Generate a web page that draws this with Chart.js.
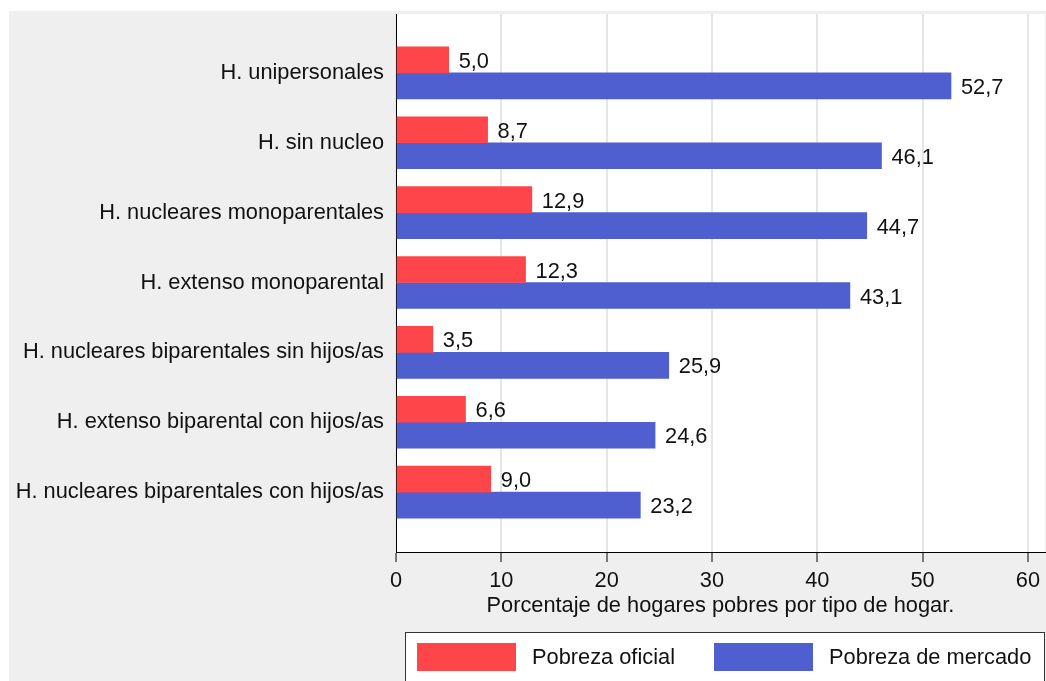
<!DOCTYPE html>
<html>
<head>
<meta charset="utf-8">
<script src="https://cdn.jsdelivr.net/npm/chart.js@4.4.1/dist/chart.umd.min.js"></script>
<style>
  html, body { margin: 0; padding: 0; background: #fff; }
  #wrap { width: 1046px; height: 681px; }
</style>
</head>
<body>
<div id="wrap"><canvas id="grafico"></canvas></div>
<script>
// tipos de hogar, de arriba hacia abajo
const categorias = [
  'H. unipersonales',
  'H. sin nucleo',
  'H. nucleares monoparentales',
  'H. extenso monoparental',
  'H. nucleares biparentales sin hijos/as',
  'H. extenso biparental con hijos/as',
  'H. nucleares biparentales con hijos/as'
];
const pobrezaOficial = [5.0, 8.7, 12.9, 12.3, 3.5, 6.6, 9.0];
const pobrezaMercado = [52.7, 46.1, 44.7, 43.1, 25.9, 24.6, 23.2];
const ticksX = [0, 10, 20, 30, 40, 50, 60];
const tituloX = 'Porcentaje de hogares pobres por tipo de hogar.';

const rojo = '#fe464a',
    azul = '#505fd0',
    fuente = "'Liberation Sans', Arial, sans-serif",
    tam = 21.8,
    texto = '#111';

const aPuntos = (arr) => arr.map((v, i) => ({ x: v, y: i }));
const conComa = (v) => v.toFixed(1).replace('.', ',');

// fondo gris, area del grafico blanca
const fondo = {
  id: 'fondo',
  beforeDraw(chart) {
    const ctx = chart.ctx, a = chart.chartArea;
    ctx.save();
    ctx.fillStyle = '#fff';
    ctx.fillRect(0, 0, chart.width, chart.height);
    ctx.fillStyle = '#efefef';
    ctx.fillRect(9, 11, chart.width - 9, chart.height - 11);
    ctx.fillStyle = '#fff';
    ctx.fillRect(a.left, a.top, a.right - a.left, a.bottom - a.top);
    ctx.restore();
  }
};

// numeros al final de cada barra
const etiquetas = {
  id: 'etiquetas',
  afterDatasetsDraw(chart) {
    const ctx = chart.ctx;
    ctx.save();
    ctx.font = tam + 'px ' + fuente;
    ctx.fillStyle = texto;
    ctx.textAlign = 'left';
    ctx.textBaseline = 'middle';
    chart.data.datasets.forEach((ds, k) => {
      chart.getDatasetMeta(k).data.forEach((bar, i) => {
        ctx.fillText(conComa(ds.data[i].x), bar.x + 10, bar.y + 2);
      });
    });
    ctx.restore();
  }
};

// leyenda con marco abajo
const leyenda = {
  id: 'leyenda',
  afterDraw(chart) {
    const ctx = chart.ctx;
    ctx.save();
    ctx.fillStyle = '#fff';
    ctx.fillRect(405, 632, 640, 60);
    ctx.strokeStyle = '#333';
    ctx.lineWidth = 1;
    ctx.strokeRect(405.5, 632.5, 639, 60);
    const xs = [417, 714];
    ctx.font = tam + 'px ' + fuente;
    ctx.textBaseline = 'middle';
    chart.data.datasets.forEach((ds, k) => {
      ctx.fillStyle = ds.backgroundColor;
      ctx.fillRect(xs[k], 643, 99, 28);
      ctx.fillStyle = texto;
      ctx.fillText(ds.label, xs[k] + 115, 658);
    });
    ctx.restore();
  }
};

new Chart(document.getElementById('grafico').getContext('2d'), {
  type: 'bar',
  data: {
    datasets: [
      { label: 'Pobreza oficial', data: aPuntos(pobrezaOficial), backgroundColor: rojo, barThickness: 26 },
      { label: 'Pobreza de mercado', data: aPuntos(pobrezaMercado), backgroundColor: azul, barThickness: 26 }
    ]
  },
  options: {
    indexAxis: 'y',
    responsive: true,
    maintainAspectRatio: false,
    animation: false,
    layout: { padding: { top: 14, left: 0, right: 0, bottom: 62 } },
    plugins: {
      legend: { display: false },
      tooltip: { enabled: false }
    },
    scales: {
      x: {
        type: 'linear',
        position: 'bottom',
        min: 0,
        max: 61.6,
        afterBuildTicks: (s) => { s.ticks = ticksX.map(v => ({ value: v })); },
        afterFit: (s) => { s.height = 67; },
        grid: { color: '#e6e6e6', lineWidth: 2, tickColor: '#000', tickLength: 10, tickWidth: 1 },
        border: { display: true, color: '#000', width: 1 },
        ticks: { font: { family: fuente, size: tam }, color: texto, padding: 6 },
        title: { display: true, text: tituloX, font: { family: fuente, size: tam }, color: texto, padding: { top: 0, bottom: 0 } }
      },
      y: {
        type: 'linear',
        reverse: true,
        offset: false,
        bounds: 'data',
        min: -0.843,
        max: 6.857,
        afterBuildTicks: (s) => { s.ticks = categorias.map((c, i) => ({ value: i })); },
        afterFit: (s) => { s.width = 396; s.paddingTop = 0; s.paddingBottom = 0; },
        grid: { display: false, drawTicks: false, offset: false },
        border: { display: true, color: '#000', width: 1 },
        ticks: {
          font: { family: fuente, size: tam },
          color: texto,
          padding: 12,
          callback: (v) => categorias[v]
        }
      }
    }
  },
  plugins: [fondo, etiquetas, leyenda]
});
</script>
</body>
</html>
